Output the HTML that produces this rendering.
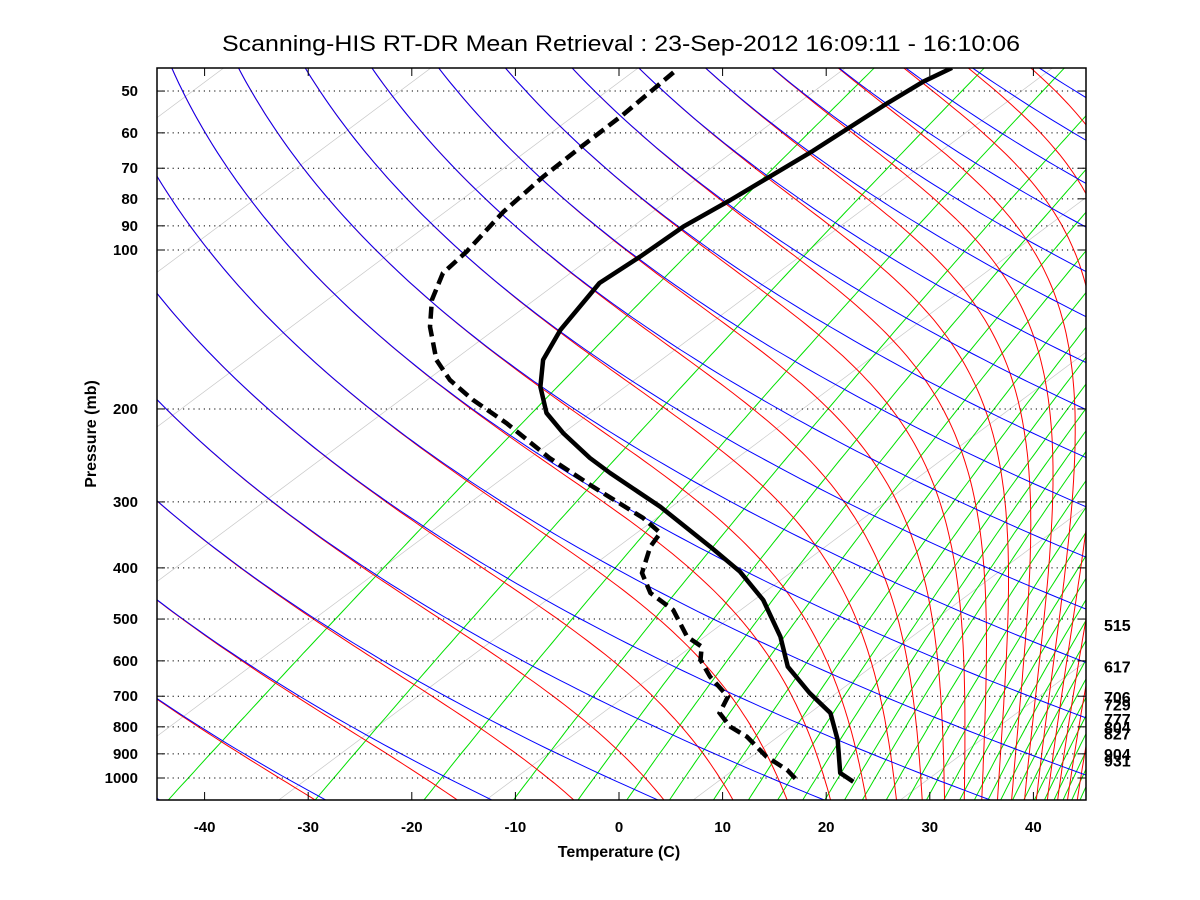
<!DOCTYPE html>
<html><head><meta charset="utf-8"><style>
html,body{margin:0;padding:0;background:#fff;}
svg{display:block;font-family:"Liberation Sans",sans-serif;}
</style></head><body>
<svg id="chart" width="1200" height="900" viewBox="0 0 1200 900" xmlns="http://www.w3.org/2000/svg">
<rect x="0" y="0" width="1200" height="900" fill="#fff"/>
<text x="621" y="51" text-anchor="middle" font-size="22" textLength="798" lengthAdjust="spacingAndGlyphs">Scanning-HIS RT-DR Mean Retrieval : 23-Sep-2012 16:09:11 - 16:10:06</text>
<defs><clipPath id="plotclip"><rect x="157" y="68" width="929" height="732"/></clipPath></defs>
<g id="bg" clip-path="url(#plotclip)"></g>
<g id="grid"></g>
<g id="series" clip-path="url(#plotclip)"></g>
<rect x="157" y="68" width="929" height="732" fill="none" stroke="#000" stroke-width="1.5"/>
<g id="axes"></g>
<text x="619" y="857" text-anchor="middle" font-size="16" font-weight="bold">Temperature (C)</text>
<text transform="translate(96,434) rotate(-90)" text-anchor="middle" font-size="16" font-weight="bold">Pressure (mb)</text>
</svg>
<script>
// ---- data ----
const pTicks = [50,60,70,80,90,100,200,300,400,500,600,700,800,900,1000];
const tTicks = [-40,-30,-20,-10,0,10,20,30,40];
const levelLabels = ["515","617","706","729","777","804","827","904","931"];
const levelPressures = [515,617,706,729,777,804,827,904,931];
const tempP = [45.2,48.0,52.8,64.9,80.4,90.3,103.0,115.5,141.8,161.5,181.5,203.6,222.2,247.7,264.5,306.4,364.7,406.7,460.2,540,615.6,690.2,753.2,847.3,978.4,1016.3];
const tempT = [-59.7,-60.7,-61.4,-62.4,-64.0,-65.1,-65.4,-65.9,-63.6,-61.4,-58.2,-54.2,-50.0,-44.2,-40.3,-31.1,-21.1,-15.0,-9.1,-2.7,1.9,7.4,12.0,16.2,20.7,23.1];
const dewP = [46.1,55.5,63.2,72.6,84.6,100.7,110.6,124.3,139.8,161.5,176.3,192.3,212.6,247.7,280.7,321.8,343.6,364.7,409,446.3,480.6,540,564,597.6,643,701.5,753.2,799.5,835.2,911.5,965.6,1016.3];
const dewT = [-86.0,-85.4,-85.3,-85.1,-84.4,-82.8,-82.3,-79.9,-76.6,-71.7,-67.8,-63.0,-56.8,-48.1,-40.2,-31.3,-27.7,-26.9,-24.3,-20.9,-16.5,-11.7,-9.0,-7.4,-4.3,0.0,1.3,4.1,7.0,11.5,15.2,17.8];
const mixRatios = [0.1,0.4,1,2,3.2,4.5,6,8,10,12,14,16,18,20,23,26,29,32,35,38,41,44,47,50,53,56,59,62,65,68];

// ---- axis functions ----
const NS="http://www.w3.org/2000/svg";
function yOf(p){return 778-528*Math.log10(1000/p);}
function xOf(T,p){return 619+10.36*T+1.34*(778-yOf(p));}
function mk(tag,attrs,parent){const e=document.createElementNS(NS,tag);for(const k in attrs)e.setAttribute(k,attrs[k]);parent.appendChild(e);return e;}
function pathFrom(pts){return pts.map((q,i)=>(i?'L':'M')+q[0].toFixed(1)+' '+q[1].toFixed(1)).join(' ');}

const bg=document.getElementById('bg'),grid=document.getElementById('grid'),axes=document.getElementById('axes'),series=document.getElementById('series');

// isotherms (light gray)
for(let T=-130;T<=50;T+=20){
  const pts=[[xOf(T,1120),yOf(1120)],[xOf(T,40),yOf(40)]];
  const e=mk('path',{d:pathFrom(pts),stroke:'#c8c8c8','stroke-width':0.7,fill:'none'},bg);
  
  
}
// mixing ratio lines (green)
for(const w of mixRatios){
  const pts=[];
  for(let lp=Math.log(1120);lp>=Math.log(40);lp-=0.02){
    const p=Math.exp(lp);const e=w*p/(622+w);const L=Math.log(e/6.112);
    const Td=243.5*L/(17.67-L);pts.push([xOf(Td,p),yOf(p)]);
  }
  const e=mk('path',{d:pathFrom(pts),stroke:'#00e000','stroke-width':1,fill:'none'},bg);
  
  
}
// dry (blue) and moist (red) adiabats
const redG=mk('g',{},bg), blueG=mk('g',{},bg);
for(let n=-4;n<=22;n++){
  const th=241+15.6*n;
  const dp=[];
  for(let lp=Math.log(1120);lp>=Math.log(40);lp-=0.02){const p=Math.exp(lp);const T=th*Math.pow(p/1000,0.2857)-273.15;dp.push([xOf(T,p),yOf(p)]);}
  const b=mk('path',{d:pathFrom(dp),stroke:'#0000ff','stroke-width':1,fill:'none'},blueG);
  
  
  let T=th*Math.pow(0.04,0.2857);const mp=[];
  const Rd=287,cp=1004,Lv=2.5e6,eps=0.622;
  for(let lp=Math.log(40);lp<=Math.log(1120);lp+=0.005){
    const p=Math.exp(lp);const Tc=T-273.15;
    mp.push([xOf(Tc,p),yOf(p)]);
    const es=6.112*Math.exp(17.67*Tc/(Tc+243.5));const rs=eps*es/Math.max(p-es,1);
    const dT=(Rd*T+Lv*rs)/(cp+Lv*Lv*rs*eps/(Rd*T*T));
    T+=dT*0.005;
  }
  const thin=mp.filter((q,i)=>i%4===0||i===mp.length-1);
  const r=mk('path',{d:pathFrom(thin),stroke:'#ff0000','stroke-width':1,fill:'none'},redG);
  
  
}
// pressure grid and ticks
pTicks.forEach(p=>{
  const y=yOf(p);
  const g=mk('line',{x1:157,x2:1086,y1:y,y2:y,stroke:'#000','stroke-width':1,'stroke-dasharray':'1.2 4'},grid);
  
  
  mk('line',{x1:157,x2:165,y1:y,y2:y,stroke:'#000','stroke-width':1},axes);
  mk('line',{x1:1078,x2:1086,y1:y,y2:y,stroke:'#000','stroke-width':1},axes);
  const t=mk('text',{x:138,y:y+5,'text-anchor':'end','font-size':15,'font-weight':'bold'},axes);
  t.textContent=p;
  
  
});
tTicks.forEach(T=>{
  const x=619+10.36*T;
  mk('line',{x1:x,x2:x,y1:800,y2:792,stroke:'#000','stroke-width':1},axes);
  mk('line',{x1:x,x2:x,y1:68,y2:76,stroke:'#000','stroke-width':1},axes);
  const t=mk('text',{x:x,y:832,'text-anchor':'middle','font-size':15,'font-weight':'bold'},axes);
  t.textContent=T;
  
  
});
levelLabels.forEach((s,i)=>{
  const t=mk('text',{x:1104,y:yOf(levelPressures[i])+5,'font-size':16,'font-weight':'bold'},axes);
  t.textContent=s;
  
  
});
// profiles
const tp=tempP.map((p,i)=>[xOf(tempT[i],p),yOf(p)]);
const tl=mk('path',{d:pathFrom(tp),stroke:'#000','stroke-width':4.5,fill:'none','stroke-linejoin':'round'},series);


const dpp=dewP.map((p,i)=>[xOf(dewT[i],p),yOf(p)]);
const dl=mk('path',{d:pathFrom(dpp),stroke:'#000','stroke-width':4.5,fill:'none','stroke-dasharray':'12 6'},series);


</script>
</body></html>
